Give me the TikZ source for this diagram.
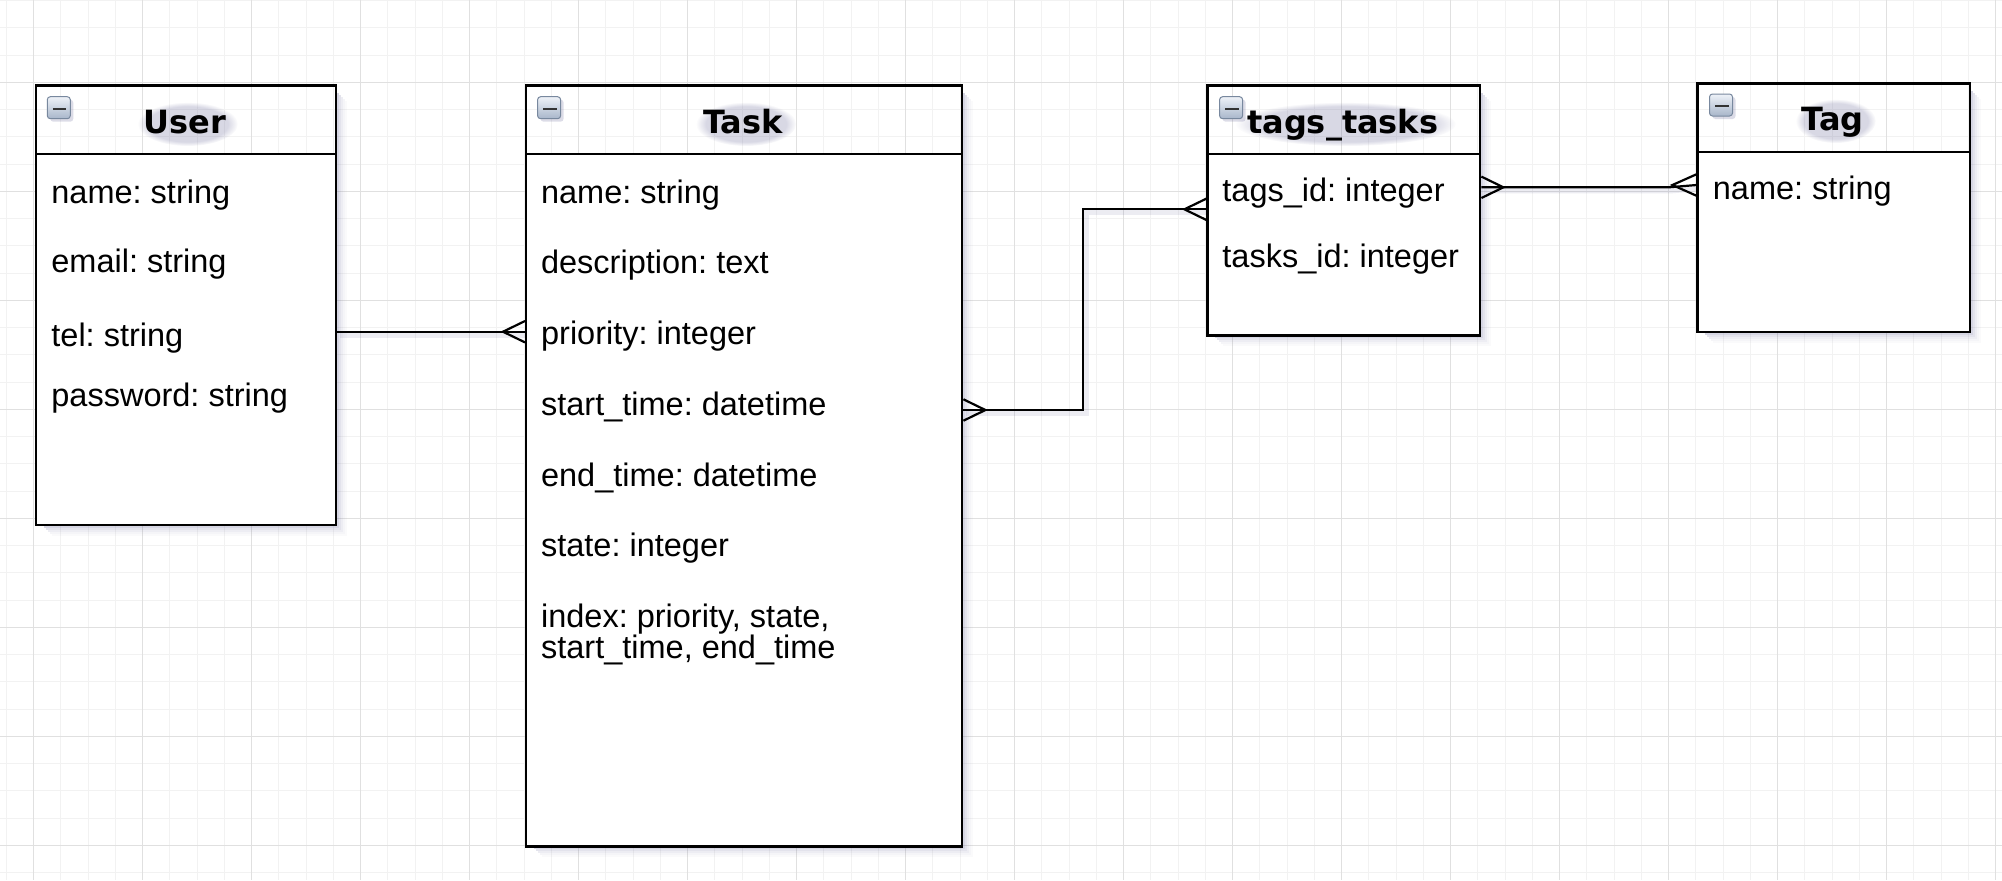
\documentclass[tikz,border=0pt]{standalone}
\usepackage{fontspec}
\setmainfont{Liberation Sans}
\newfontfamily\ttlfont{DejaVu Sans}
\usetikzlibrary{calc,fadings}
\pgfdeclarelayer{bg}
\pgfsetlayers{bg,main}
\frenchspacing
\definecolor{gridminor}{RGB}{242,242,242}
\definecolor{gridmajor}{RGB}{224,224,224}
\definecolor{shadowc}{RGB}{100,100,150}
\definecolor{iconborder}{RGB}{120,136,158}
\definecolor{icontop}{RGB}{238,242,248}
\definecolor{iconbot}{RGB}{168,182,202}
\tikzset{
  ent/.style={draw=black, line width=1.2pt, inner sep=0pt, anchor=north west},
  rowtext/.style={anchor=base west, inner sep=0pt, font=\fontsize{16.25}{15.5}\selectfont},
  ttltext/.style={anchor=base, inner sep=0pt, font=\ttlfont\bfseries\fontsize{16}{19}\selectfont},
  conn/.style={draw=black, line width=1.1pt, line join=miter},
  connshadow/.style={draw=shadowc, line width=3pt, opacity=0.12},
  gminor/.style={draw=gridminor, line width=0.5pt},
  gmajor/.style={draw=gridmajor, line width=0.6pt},
}
\newcommand\eshadow[4]{%
  \foreach \k/\o in {1/0.34,3/0.26,5/0.18,7/0.11,9/0.06,11/0.03}{%
    \draw[shadowc, line width=1pt, opacity=\o] (#3+\k,#2+6+\k) -- (#3+\k,#4+\k) -- (#1+6+\k,#4+\k);}}
\newcommand\eicon[2]{%
  \fill[shadowc, opacity=0.22, rounded corners=1.5pt] (#1+3,#2+3) rectangle ++(23,22);
  \shade[top color=icontop, bottom color=iconbot, draw=iconborder, line width=0.5pt, rounded corners=1.5pt] (#1,#2) rectangle ++(23,22);
  \draw[line width=1.1pt, black!80] (#1+5.5,#2+12) -- ++(13.5,0);}
\newcommand\crowfoot[3]{%
  \draw[conn] ($#1+(0,-10.7)$) -- ($#1+(#2*#3,0)$) -- ($#1+(0,10.7)$);}
\newcommand\ttlhaze[3]{%
  \fill[shadowc, opacity=0.25, path fading=circle with fuzzy edge 20 percent] (#1+3,#2) ellipse [x radius=#3, y radius=22];}
\begin{document}
\begin{tikzpicture}[x=0.5pt, y=-0.5pt]
\useasboundingbox (0,0) rectangle (2002,880);
% grid
\begin{pgfonlayer}{bg}
\fill[white] (0,0) rectangle (2002,880);
\foreach \j in {-1,...,72} {\draw[gminor] ({33.7+27.25*\j},0) -- ({33.7+27.25*\j},880);}
\foreach \j in {-3,...,29} {\draw[gminor] (0,{82.3+27.25*\j}) -- (2002,{82.3+27.25*\j});}
\foreach \j in {0,...,18} {\draw[gmajor] ({33.7+109*\j},0) -- ({33.7+109*\j},880);}
\foreach \j in {0,...,7} {\draw[gmajor] (0,{82.3+109*\j}) -- (2002,{82.3+109*\j});}
\end{pgfonlayer}

% entities
\node[ent, minimum width=149.75pt, minimum height=219.75pt] (user) at (35,84.3) {};
\node[ent, minimum width=218pt, minimum height=380.5pt] (task) at (525,84.3) {};
\node[ent, minimum width=136.3pt, minimum height=125pt] (tt) at (1206.4,84.3) {};
\node[ent, minimum width=136.3pt, minimum height=124.25pt] (tag) at (1696.4,82.3) {};

% connector coordinates
\coordinate (ya) at (0,331.7);
\coordinate (yb) at (0,410);
\coordinate (yc) at (0,209.3);
\coordinate (xm) at (1083.3,0);
\coordinate (yd) at (0,187.3);
\coordinate (ye) at (0,185);
\coordinate (jog) at (1669,187.3);

\begin{pgfonlayer}{bg}
% connector shadows
\draw[connshadow] ($(user.east |- ya)+(3,3)$) -- ($(task.west |- ya)+(3,3)$);
\draw[connshadow] ($(task.east |- yb)+(3,3)$) -- ($(xm |- yb)+(3,3)$) -- ($(xm |- yc)+(3,3)$) -- ($(tt.west |- yc)+(3,3)$);
\draw[connshadow] ($(tt.east |- yd)+(3,3)$) -- ($(jog)+(3,3)$) -- ($(tag.west |- ye)+(3,3)$);
% box shadows and body fills
\eshadow{35}{84.3}{334.5}{523.8}
\eshadow{525}{84.3}{961}{845.3}
\eshadow{1206.4}{84.3}{1479}{334.3}
\eshadow{1696.4}{82.3}{1969}{330.8}
\fill[white] ($(user.north west)+(0,70)$) rectangle (user.south east);
\fill[white] ($(task.north west)+(0,70)$) rectangle (task.south east);
\fill[white] ($(tt.north west)+(0,70)$) rectangle (tt.south east);
\fill[white] ($(tag.north west)+(0,70)$) rectangle (tag.south east);
% title haze
\ttlhaze{184.75}{124}{50}
\ttlhaze{743}{124}{50}
\ttlhaze{1342.7}{124}{110}
\ttlhaze{1832.7}{121}{40}
\end{pgfonlayer}

% header separators
\draw[conn] ($(user.north west)+(0,70)$) -- ($(user.north east)+(0,70)$);
\draw[conn] ($(task.north west)+(0,70)$) -- ($(task.north east)+(0,70)$);
\draw[conn] ($(tt.north west)+(0,70)$) -- ($(tt.north east)+(0,70)$);
\draw[conn] ($(tag.north west)+(0,70)$) -- ($(tag.north east)+(0,70)$);

% icons
\eicon{47.3}{96.7}
\eicon{537.6}{96.7}
\eicon{1219.6}{96.7}
\eicon{1709.5}{94}

% titles
\node[ttltext] (userT) at (184.75,133.3) {User};
\node[ttltext] (taskT) at (743,133.3) {Task};
\node[ttltext] (ttT) at (1342.7,133.3) {tags\_tasks};
\node[ttltext] (tagT) at (1832.7,130.6) {Tag};

% rows
\node[rowtext] (u1) at (51,203.3) {name: string};
\node[rowtext] (u2) at (51,272) {email: string};
\node[rowtext] (u3) at (51,346) {tel: string};
\node[rowtext] (u4) at (51,406.7) {password: string};

\node[rowtext] (t1) at (540.7,203.3) {name: string};
\node[rowtext] (t2) at (540.7,273.3) {description: text};
\node[rowtext] (t3) at (540.7,344) {priority: integer};
\node[rowtext] (t4) at (540.7,415) {start\_time: datetime};
\node[rowtext] (t5) at (540.7,486.7) {end\_time: datetime};
\node[rowtext] (t6) at (540.7,556.7) {state: integer};
\node[rowtext] (t7) at (540.7,627.3) {index: priority, state,};
\node[rowtext] (t8) at (540.7,658.3) {start\_time, end\_time};

\node[rowtext] (k1) at (1222,201.7) {tags\_id: integer};
\node[rowtext] (k2) at (1222,267.3) {tasks\_id: integer};

\node[rowtext] (g1) at (1712.5,199) {name: string};

% connectors
\draw[conn] (user.east |- ya) -- (task.west |- ya);
\crowfoot{(task.west |- ya)}{-1}{22}

\draw[conn] (task.east |- yb) -- (xm |- yb) -- (xm |- yc) -- (tt.west |- yc);
\crowfoot{(task.east |- yb)}{1}{22}
\crowfoot{(tt.west |- yc)}{-1}{22}

\draw[conn] (tt.east |- yd) -- (jog) -- (tag.west |- ye);
\crowfoot{(tt.east |- yd)}{1}{22}
\crowfoot{(tag.west |- ye)}{-1}{24}
\end{tikzpicture}
\end{document}
